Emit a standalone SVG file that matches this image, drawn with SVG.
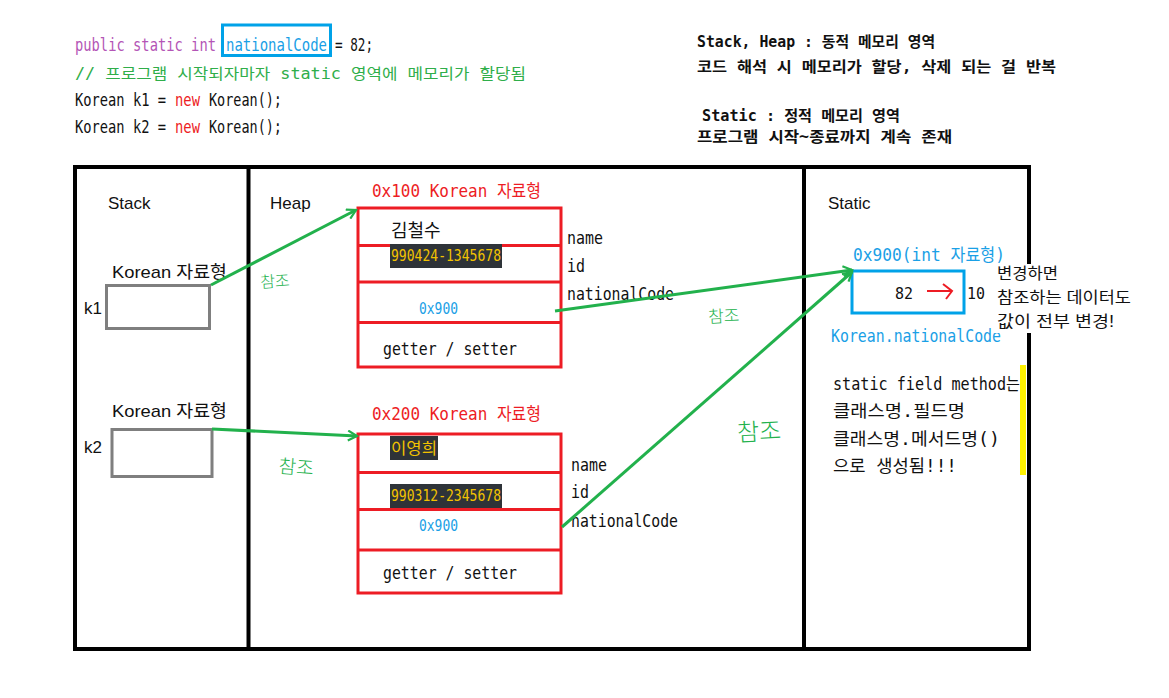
<svg xmlns="http://www.w3.org/2000/svg" width="1169" height="698" viewBox="0 0 1169 698">
<style>
.mono{font-family:"DejaVu Sans Mono","Noto Sans CJK KR",monospace;font-size:17px;fill:#111}
.code{font-family:"DejaVu Sans Mono","Noto Sans CJK KR",monospace;font-size:14.5px;fill:#111}
.sans{font-family:"Liberation Sans","Noto Sans CJK KR",sans-serif;font-size:16px;fill:#111}
.note{font-family:"DejaVu Sans Mono","Noto Sans CJK KR",monospace;font-size:15px;font-weight:bold;fill:#111}
.frame{fill:none;stroke:#000;stroke-width:4}
.cell{fill:none;stroke:#ed1c24;stroke-width:3}
.ref{stroke:#22b14c;stroke-width:3;fill:none;marker-end:url(#ah)}
.hand{font-family:"Noto Sans CJK KR",sans-serif;font-weight:300;fill:#22b14c}
.hl{fill:#2e3338}
.hlt{font-family:"DejaVu Sans Mono","Noto Sans CJK KR",monospace;font-size:16px;fill:#f2c200}
.red{fill:#ed1c24}
.blue{fill:#1aa0e6}
</style>
<defs>
<marker id="ah" viewBox="0 0 12 12" refX="10" refY="6" markerWidth="12" markerHeight="12" markerUnits="userSpaceOnUse" orient="auto">
<path d="M1,1 L10,6 L1,11" fill="none" stroke="#22b14c" stroke-width="2.2"/>
</marker>
</defs>
<rect width="1169" height="698" fill="#fff"/>

<g id="code">
<g transform="matrix(1 0 0 1.17 0 -8.67)">
<text class="code" x="75" y="51" style="fill:#b455b6" textLength="141" lengthAdjust="spacingAndGlyphs">public static int</text>
<text class="code" x="226" y="51" style="fill:#1aa0e6" textLength="101" lengthAdjust="spacingAndGlyphs">nationalCode</text>
<text class="code" x="335" y="51" textLength="38" lengthAdjust="spacingAndGlyphs">= 82;</text>
</g>
<rect x="222.5" y="25" width="108" height="30.5" fill="none" stroke="#00a2e8" stroke-width="3"/>
<text class="code" x="75" y="79" style="fill:#2fae4a;font-size:15px" textLength="451" lengthAdjust="spacingAndGlyphs">// 프로그램 시작되자마자 static 영역에 메모리가 할당됨</text>
<g transform="matrix(1 0 0 1.17 0 -18.02)">
<text class="code" x="75" y="106" textLength="91" lengthAdjust="spacingAndGlyphs">Korean k1 =</text>
<text class="code" x="175" y="106" style="fill:#ed1c24" textLength="25" lengthAdjust="spacingAndGlyphs">new</text>
<text class="code" x="209" y="106" textLength="73" lengthAdjust="spacingAndGlyphs">Korean();</text>
</g>
<g transform="matrix(1 0 0 1.17 0 -22.61)">
<text class="code" x="75" y="133" textLength="91" lengthAdjust="spacingAndGlyphs">Korean k2 =</text>
<text class="code" x="175" y="133" style="fill:#ed1c24" textLength="25" lengthAdjust="spacingAndGlyphs">new</text>
<text class="code" x="209" y="133" textLength="73" lengthAdjust="spacingAndGlyphs">Korean();</text>
</g>
</g>

<g id="notes">
<text class="note" x="697" y="47" textLength="238" lengthAdjust="spacingAndGlyphs">Stack, Heap : 동적 메모리 영역</text>
<text class="note" x="697" y="72" textLength="359" lengthAdjust="spacingAndGlyphs">코드 해석 시 메모리가 할당, 삭제 되는 걸 반복</text>
<text class="note" x="702" y="121" textLength="198" lengthAdjust="spacingAndGlyphs">Static : 정적 메모리 영역</text>
<text class="note" x="697" y="142" textLength="255" lengthAdjust="spacingAndGlyphs">프로그램 시작~종료까지 계속 존재</text>
</g>

<g id="frame">
<rect class="frame" x="75" y="167" width="954" height="482"/>
<line class="frame" x1="248.5" y1="167" x2="248.5" y2="649"/>
<line class="frame" x1="804" y1="167" x2="804" y2="649"/>
<text class="sans" x="108" y="209" style="font-size:17px">Stack</text>
<text class="sans" x="270" y="209" style="font-size:17px">Heap</text>
<text class="sans" x="828" y="209" style="font-size:17px">Static</text>
</g>

<g id="k1">
<text class="sans" x="112" y="278" textLength="115" lengthAdjust="spacingAndGlyphs" style="font-size:17px">Korean 자료형</text>
<rect x="106.5" y="285.5" width="103" height="43" fill="none" stroke="#7f7f7f" stroke-width="3"/>
<text class="sans" x="84" y="314" style="font-size:17px">k1</text>
</g>

<g id="k2">
<text class="sans" x="112" y="417" textLength="115" lengthAdjust="spacingAndGlyphs" style="font-size:17px">Korean 자료형</text>
<rect x="112" y="429.5" width="100" height="47" fill="none" stroke="#7f7f7f" stroke-width="3"/>
<text class="sans" x="84" y="453" style="font-size:17px">k2</text>
</g>

<g id="obj1">
<text class="mono red" x="372" y="197" textLength="169" lengthAdjust="spacingAndGlyphs">0x100 Korean 자료형</text>
<rect class="cell" x="358" y="208" width="203" height="159"/>
<line class="cell" x1="358" y1="245.5" x2="561" y2="245.5"/>
<line class="cell" x1="358" y1="282" x2="561" y2="282"/>
<line class="cell" x1="358" y1="322.5" x2="561" y2="322.5"/>
<text class="sans" x="391" y="237" style="font-size:18px">김철수</text>
<rect class="hl" x="390" y="244" width="112" height="24"/>
<text class="hlt" x="391" y="261" textLength="110" lengthAdjust="spacingAndGlyphs">990424-1345678</text>
<text class="mono blue" x="419" y="314" style="font-size:15px" textLength="39" lengthAdjust="spacingAndGlyphs">0x900</text>
<text class="mono" x="383" y="355" textLength="134" lengthAdjust="spacingAndGlyphs">getter / setter</text>
<text class="mono" x="567" y="244" textLength="36" lengthAdjust="spacingAndGlyphs">name</text>
<text class="mono" x="567" y="272" textLength="18" lengthAdjust="spacingAndGlyphs">id</text>
<text class="mono" x="567" y="300" textLength="107" lengthAdjust="spacingAndGlyphs">nationalCode</text>
</g>

<g id="obj2">
<text class="mono red" x="372" y="420" textLength="169" lengthAdjust="spacingAndGlyphs">0x200 Korean 자료형</text>
<rect class="cell" x="358" y="434" width="203" height="159"/>
<line class="cell" x1="358" y1="472.5" x2="561" y2="472.5"/>
<line class="cell" x1="358" y1="509.5" x2="561" y2="509.5"/>
<line class="cell" x1="358" y1="550" x2="561" y2="550"/>
<rect class="hl" x="390" y="436" width="48" height="24"/>
<text class="hlt" x="391" y="454" textLength="46" lengthAdjust="spacingAndGlyphs">이영희</text>
<rect class="hl" x="390" y="484" width="112" height="24"/>
<text class="hlt" x="391" y="501" textLength="110" lengthAdjust="spacingAndGlyphs">990312-2345678</text>
<text class="mono blue" x="419" y="531" style="font-size:15px" textLength="39" lengthAdjust="spacingAndGlyphs">0x900</text>
<text class="mono" x="383" y="579" textLength="134" lengthAdjust="spacingAndGlyphs">getter / setter</text>
<text class="mono" x="571" y="471" textLength="36" lengthAdjust="spacingAndGlyphs">name</text>
<text class="mono" x="571" y="498" textLength="18" lengthAdjust="spacingAndGlyphs">id</text>
<text class="mono" x="571" y="527" textLength="107" lengthAdjust="spacingAndGlyphs">nationalCode</text>
</g>

<g id="static-var">
<text class="mono blue" x="853" y="261" textLength="152" lengthAdjust="spacingAndGlyphs">0x900(int 자료형)</text>
<rect x="852" y="271" width="112" height="42" fill="none" stroke="#00a2e8" stroke-width="3"/>
<text class="mono" x="895" y="299" textLength="18" lengthAdjust="spacingAndGlyphs" style="font-size:16px">82</text>
<path d="M927 291 H952 M943 284 L952 291 L946 299" fill="none" stroke="#ed1c24" stroke-width="2"/>
<text class="mono" x="967" y="299" textLength="18" lengthAdjust="spacingAndGlyphs" style="font-size:16px">10</text>
<text class="mono blue" x="831" y="342" textLength="170" lengthAdjust="spacingAndGlyphs">Korean.nationalCode</text>
<rect x="994" y="264" width="142" height="69" fill="#fff"/>
<text class="sans" x="997" y="279" textLength="61" lengthAdjust="spacingAndGlyphs">변경하면</text>
<text class="sans" x="997" y="303" textLength="134" lengthAdjust="spacingAndGlyphs">참조하는 데이터도</text>
<text class="sans" x="997" y="327" textLength="117" lengthAdjust="spacingAndGlyphs">값이 전부 변경!</text>
</g>

<g id="static-note">
<rect x="1020" y="365" width="6" height="110" fill="#fff200"/>
<text class="mono" x="833" y="390" textLength="187" lengthAdjust="spacingAndGlyphs">static field method는</text>
<text class="mono" x="833" y="417" textLength="132" lengthAdjust="spacingAndGlyphs">클래스명.필드명</text>
<text class="mono" x="833" y="445" textLength="167" lengthAdjust="spacingAndGlyphs">클래스명.메서드명()</text>
<text class="mono" x="833" y="472" textLength="124" lengthAdjust="spacingAndGlyphs">으로 생성됨!!!</text>
</g>

<g id="connectors">
<line class="ref" x1="211" y1="285" x2="356" y2="210"/>
<line class="ref" x1="212" y1="429" x2="357" y2="436"/>
<line class="ref" x1="555" y1="311" x2="852" y2="270"/>
<line class="ref" x1="562" y1="527" x2="852" y2="272"/>
<text class="hand" x="260" y="287" style="font-size:16px" transform="rotate(-4 276 278)">참조</text>
<text class="hand" x="708" y="322" style="font-size:17px" transform="rotate(-3 726 313)">참조</text>
<text class="hand" x="737" y="440" style="font-size:24px" transform="rotate(-3 760 430)">참조</text>
<text class="hand" x="279" y="474" style="font-size:19px" transform="rotate(4 298 462)">참조</text>
</g>
</svg>
